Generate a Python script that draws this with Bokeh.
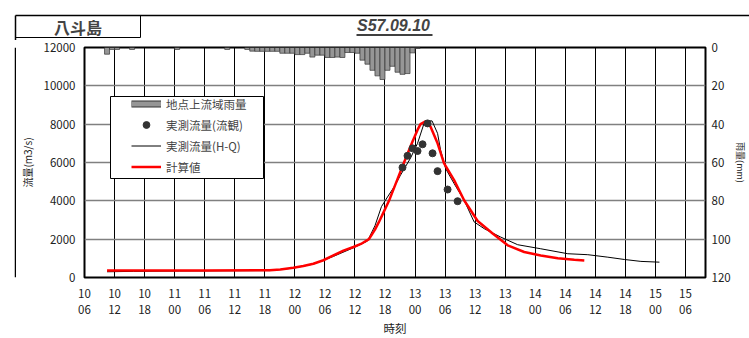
from bokeh.plotting import figure
from bokeh.layouts import column, row
from bokeh.models import (Range1d, LinearAxis, FixedTicker, Label, Legend,
                          LegendItem, BoxAnnotation)
from bokeh.embed import file_html
from bokeh.resources import INLINE

FONT = "Noto Sans CJK JP"
NAN = float("nan")

station_name = "八斗島"
event_date = "S57.09.10"

# time axis: hours counted from 10th 00:00
tick_hours = [6, 12, 18, 24, 30, 36, 42, 48, 54, 60, 66, 72, 78, 84, 90,
              96, 102, 108, 114, 120, 126]
tick_labels = ["10\n06", "10\n12", "10\n18", "11\n00", "11\n06", "11\n12",
               "11\n18", "12\n00", "12\n06", "12\n12", "12\n18", "13\n00",
               "13\n06", "13\n12", "13\n18", "14\n00", "14\n06", "14\n12",
               "14\n18", "15\n00", "15\n06"]
flow_ticks = [0, 2000, 4000, 6000, 8000, 10000, 12000]
rain_ticks = [0, 20, 40, 60, 80, 100, 120]

# basin rainfall (mm/h)
rain_hours = [10.5, 11.5, 12.5, 15.5, 24.5, 34.5, 38.5,
              39.5, 40.5, 41.5, 42.5, 43.5, 44.5, 45.5, 46.5, 47.5, 48.5,
              49.5, 50.5, 51.5, 52.5, 53.5, 54.5, 55.5, 56.5, 57.5, 58.5,
              59.5, 60.5, 61.5, 62.5, 63.5, 64.5, 65.5, 66.5, 67.5, 68.5,
              69.5, 70.5, 71.5, 72.5]
rain_mm = [3.5, 1.0, 1.0, 1.0, 1.0, 1.0, 1.0,
           1.9, 2.0, 2.0, 2.0, 2.0, 2.0, 3.0, 3.0, 3.0, 3.7,
           3.7, 3.0, 5.0, 4.0, 4.0, 5.2, 5.2, 5.0, 5.2, 2.6,
           2.6, 3.0, 6.6, 8.7, 11.9, 14.8, 16.7, 11.9, 9.8, 12.9,
           14.0, 13.6, 2.8, 0.5]

# observed discharge (current meter)
obs_hours = [69.5, 70.5, 71.5, 72.5, 73.5, 74.5, 75.5, 76.5, 78.5, 80.5]
obs_flow = [5740, 6350, 6740, 6600, 6950, 8040, 6480, 5550, 4590, 3980]

# observed discharge (H-Q)
hq_hours = [10.5, 15.8, 25, 43, 47.7, 51.7, 55.7, 59.7, 62.5, 64.0, 65.3,
            66.5, 68.0, 69.1, 71.1, 72.5, 73.8, 74.3, 75.4, 76.5, 77.1,
            78.1, 79.8, 81.8, 83.8, 85.8, 89.1, 92.5, 97.1, 102.5, 106.5,
            110.5, 113.8, 117.1, 120.8]
hq_flow = [300, 320, 340, 360, 490, 700, 1100, 1550, 1900, 2700, 3700,
           4200, 4800, 5340, 6230, 7000, 8040, 8170, 8170, 7520, 6650,
           5690, 4900, 4030, 2900, 2550, 2110, 1710, 1500, 1240, 1190,
           1060, 940, 840, 800]

# calculated discharge
calc_hours = [10.5, 20, 30, 43, 45.1, 47.7, 49.7, 51.7, 53.7, 55.7, 57.7,
              59.7, 61.2, 62.8, 64.0, 64.8, 65.8, 66.8, 68.3, 69.8, 71.5,
              72.5, 73.1, 74.1, 75.1, 76.5, 77.8, 79.8, 81.8, 84.5, 87.5,
              90.5, 93.8, 97.1, 100.5, 103.8, 105.8]
calc_flow = [370, 370, 370, 375, 420, 510, 600, 720, 900, 1150, 1400,
             1590, 1750, 2000, 2500, 2900, 3450, 4000, 5000, 6000, 7100,
             7700, 8000, 8150, 7870, 7000, 5950, 5080, 4030, 2950, 2300,
             1680, 1330, 1150, 1010, 925, 890]


def bare(fig):
    fig.outline_line_color = None
    fig.grid.visible = False
    fig.background_fill_color = "white"
    fig.border_fill_color = "white"
    return fig


def style_axis(ax, standoff, label_size, label_standoff):
    ax.major_label_text_font = FONT
    ax.major_label_text_font_size = "11.5px"
    ax.major_label_text_color = "#222222"
    ax.major_label_standoff = standoff
    ax.axis_label_text_font = FONT
    ax.axis_label_text_font_size = label_size
    ax.axis_label_text_font_style = "normal"
    ax.axis_label_text_color = "#222222"
    ax.axis_label_standoff = label_standoff
    ax.axis_line_color = None
    ax.major_tick_line_color = None
    ax.minor_tick_line_color = None
    ax.major_tick_out = 0
    ax.major_tick_in = 0
    ax.minor_tick_out = 0
    ax.minor_tick_in = 0


# ---------------- header strip (pixel coordinates) ----------------
header = bare(figure(width=749, height=40, x_range=Range1d(0, 749),
                     y_range=Range1d(40, 0), min_border=0,
                     min_border_left=0, min_border_right=0,
                     min_border_top=0, min_border_bottom=0,
                     x_axis_location=None, y_axis_location=None, title=None,
                     output_backend="svg", toolbar_location=None))
header.line([15, 749], [15, 15], line_color="black", line_width=1.5)
header.line([15, 15], [15, 40], line_color="black", line_width=1.5)
header.line([15, 140, 140], [37, 37, 15], line_color="black", line_width=1)
header.add_layout(Label(x=77.5, y=26, text=station_name, text_font=FONT,
                        text_font_size="16px", text_font_style="bold",
                        text_align="center", text_baseline="middle"))
header.add_layout(Label(x=393, y=25, text=event_date,
                        text_font="Liberation Sans", text_font_size="16px",
                        text_font_style="bold italic", text_align="center",
                        text_baseline="middle"))
header.line([356, 432], [34.5, 34.5], line_color="black", line_width=1.5)

# ---------------- left border strip ----------------
strip = bare(figure(width=16, height=298, x_range=Range1d(0, 16),
                    y_range=Range1d(0, 298), min_border=0,
                    min_border_left=0, min_border_right=0,
                    min_border_top=0, min_border_bottom=0,
                    x_axis_location=None, y_axis_location=None, title=None,
                    output_backend="svg", toolbar_location=None))
strip.line([15, 15], [0, 298], line_color="black", line_width=1.5)

# ---------------- main chart ----------------
p = figure(frame_width=621, frame_height=230, x_range=Range1d(6, 130),
           y_range=Range1d(0, 12000), output_backend="svg", title=None,
           toolbar_location=None, min_border_left=68, min_border_right=44,
           min_border_top=7, min_border_bottom=61)
p.extra_y_ranges = {"rain": Range1d(120, 0)}

p.outline_line_color = "black"
p.outline_line_width = 2
p.background_fill_color = "white"
p.border_fill_color = "white"

p.xgrid.ticker = FixedTicker(ticks=tick_hours)
p.xgrid.grid_line_color = "black"
p.xgrid.grid_line_width = 1
p.ygrid.ticker = FixedTicker(ticks=flow_ticks)
p.ygrid.grid_line_color = "#808080"
p.ygrid.grid_line_width = 1.5

xa = p.xaxis[0]
xa.ticker = FixedTicker(ticks=tick_hours)
xa.major_label_overrides = {h: l for h, l in zip(tick_hours, tick_labels)}
xa.axis_label = "時刻"
style_axis(xa, 7, "11.5px", 0)
xa.major_label_text_line_height = 1.0

ya = p.yaxis[0]
ya.ticker = FixedTicker(ticks=flow_ticks)
ya.axis_label = "流量(m3/s)"
style_axis(ya, 9, "10px", 6)

ra = LinearAxis(y_range_name="rain", ticker=FixedTicker(ticks=rain_ticks))
ra.axis_label = "雨量(mm)"
style_axis(ra, 6, "9px", 0)
p.add_layout(ra, "right")

bars = p.vbar(x=rain_hours, top=[0] * len(rain_mm), bottom=rain_mm, width=1,
              y_range_name="rain", fill_color="#969696",
              line_color="#333333", line_width=0.7)
hq = p.line(hq_hours, hq_flow, line_color="black", line_width=1)
calc = p.line(calc_hours, calc_flow, line_color="#ff0000", line_width=2.5)
obs = p.scatter(obs_hours, obs_flow, size=7, fill_color="#333333",
                line_color="#333333")

# legend sample for rainfall (thin bar look); NaN data draws nothing
leg_b = p.line(x=[NAN], y=[NAN], line_color="#333333", line_width=7,
               line_cap="butt")
leg_g = p.line(x=[NAN], y=[NAN], line_color="#969696", line_width=5,
               line_cap="butt")

S = "screen"
legend_box = BoxAnnotation(left=26, right=179, top=181, bottom=99,
                           left_units=S, right_units=S, top_units=S,
                           bottom_units=S, fill_color="white", fill_alpha=1,
                           line_color="black", line_alpha=1, line_width=1)
p.add_layout(legend_box)

legend = Legend(items=[
    LegendItem(label="地点上流域雨量", renderers=[leg_b, leg_g]),
    LegendItem(label="実測流量(流観)", renderers=[obs]),
    LegendItem(label="実測流量(H-Q)", renderers=[hq]),
    LegendItem(label="計算値", renderers=[calc]),
], location=(47, 100), padding=0, spacing=0, margin=0,
    glyph_width=30, glyph_height=17, label_height=21, label_standoff=5,
    label_text_font=FONT, label_text_font_size="11.5px",
    border_line_alpha=0, background_fill_alpha=0)
p.add_layout(legend, "center")

layout = column(header, row(strip, p, spacing=0), spacing=0)

open("out.html", "w").write(file_html(layout, INLINE))
